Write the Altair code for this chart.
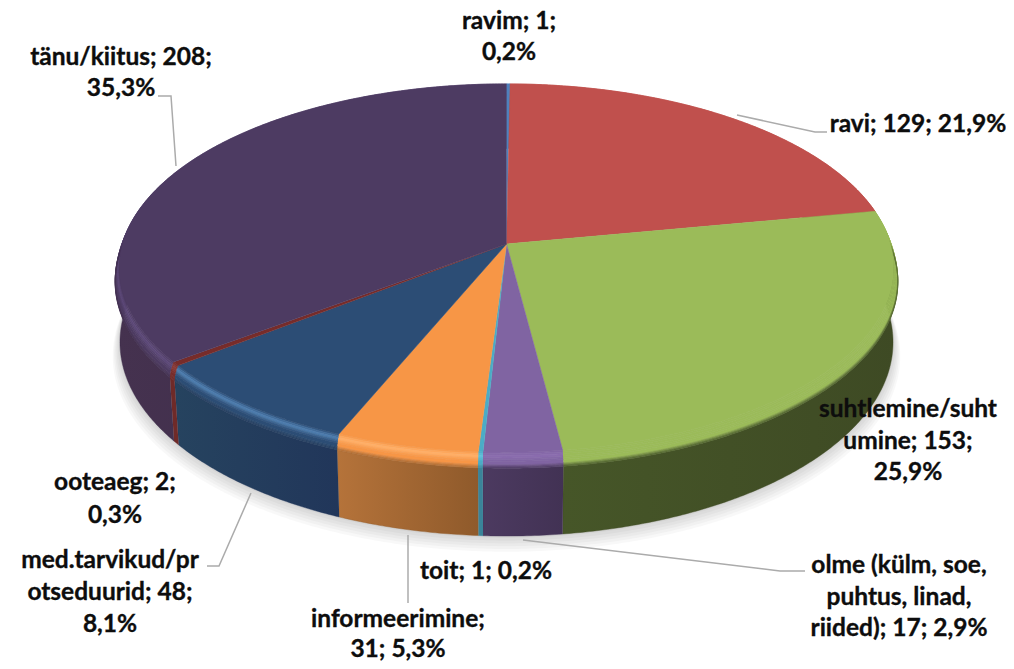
import math
import altair as alt
import pandas as pd

# ---- chart values ----
categories = ["ravim", "ravi", "suhtlemine/suhtumine", "olme", "toit",
              "informeerimine", "med.tarvikud/protseduurid", "ooteaeg", "tänu/kiitus"]
counts = [1, 129, 153, 17, 1, 31, 48, 2, 208]
top_colors = ["#4F81BD", "#C0504D", "#9BBB59", "#8064A2", "#4BACC6",
              "#F79646", "#2C4D75", "#772C2A", "#4D3B62"]
hi_colors = ["#6A9AD6", "#C0504D", "#9BBB59", "#8A6CAE", "#5FC0DA",
             "#FFAE66", "#4C7BAC", "#8A3A38", "#5C4878"]
side_left = ["#3B6694", "#8A3A38", "#465628", "#4C3A60", "#3A8499",
             "#B5733A", "#26435F", "#6F2A28", "#45324F"]
side_right = ["#3B6694", "#8A3A38", "#3E4A24", "#423254", "#3A8499",
              "#8F5A2B", "#21365A", "#6F2A28", "#3B2A49"]

label_lines = ["ravim; 1;", "0,2%", "ravi; 129; 21,9%", "suhtlemine/suht", "umine; 153;", "25,9%",
               "olme (külm, soe,", "puhtus, linad,", "riided); 17; 2,9%", "toit; 1; 0,2%",
               "informeerimine;", "31; 5,3%", "ooteaeg; 2;", "0,3%", "med.tarvikud/pr",
               "otseduurid; 48;", "8,1%", "tänu/kiitus; 208;", "35,3%"]
label_x = [509, 509, 918, 908, 908, 908, 899, 899, 899, 486, 398, 398, 115, 115, 110, 110, 110, 121, 121]
label_y = [22, 53, 125, 410, 442, 473, 566, 598, 629, 572, 620, 650, 483, 516, 561, 593, 625, 58, 89]

leaders = [
    [(737, 115), (815, 132), (827, 132)],
    [(158, 96), (171, 96), (176, 166)],
    [(207, 566), (219, 566), (251, 493)],
    [(408, 535), (408, 603)],
    [(523, 540), (780, 571), (805, 571)],
]

# ---- perspective of the pie plane ----
X0, Y0, A, B, K = 506.5, 244.0, 384.0, 181.0, 0.1304
DEPTH, BEVEL, SX_OUT, SX_BOTTOM = 73.0, 14.0, 1.0104, 0.998


def rim(theta, down=0.0, sx=1.0):
    s, c = math.sin(theta), math.cos(theta)
    p = 1 / (1 + K * c)
    return X0 + A * s * p * sx, Y0 - B * c * p + down * p


def bevel_sx(o):
    return 1 + (SX_OUT - 1) * math.sin(min(1.0, o / BEVEL) * math.pi / 2)


def arc_angles(a, b):
    n = max(2, int((b - a) / math.radians(0.5)))
    return [a + (b - a) * i / n for i in range(n + 1)]


def mix(c1, c2, t):
    v1 = [int(c1[i:i + 2], 16) for i in (1, 3, 5)]
    v2 = [int(c2[i:i + 2], 16) for i in (1, 3, 5)]
    return "#" + "".join(f"{round(a + (b - a) * t):02X}" for a, b in zip(v1, v2))


total = sum(counts)
edges = [0.0]
for v in counts:
    edges.append(edges[-1] + v / total * 2 * math.pi)

top_rows, bevel_rows, shadow_rows = [], [], []
side_tables = []
profile = [(0, 1.5, 0.3, 0), (1.5, 3, 0.7, 0), (3, 5, 1.0, 0), (5, 6.5, 0.6, 0), (6.5, 8, 0.25, 0),
           (8, 11, 0, 0), (11, 12, 0, 0.25), (12, 13, 0, 0.5), (13, 14, 0, 0.75)]

for idx, name in enumerate(categories):
    a, b = edges[idx], edges[idx + 1]
    ang = arc_angles(a, b)
    pts = [(X0, Y0)] + [rim(t) for t in ang]
    for i, (x, y) in enumerate(pts):
        top_rows.append(dict(g=name, i=i, x=x, y=y, c=top_colors[idx]))

    side_mid = mix(side_left[idx], side_right[idx], 0.5)
    for k, (o1, o2, hi, dark) in enumerate(profile):
        col = mix(mix(top_colors[idx], hi_colors[idx], hi), side_mid, dark)
        poly = [rim(t, o1, bevel_sx(o1)) for t in ang] + [rim(t, o2, bevel_sx(o2)) for t in reversed(ang)]
        for i, (x, y) in enumerate(poly):
            bevel_rows.append(dict(g=f"{name}-{k}", i=i, x=x, y=y, c=col))

    poly = [rim(t, BEVEL, SX_OUT) for t in ang] + [rim(t, DEPTH, SX_BOTTOM) for t in reversed(ang)]
    side_tables.append((pd.DataFrame([dict(i=i, x=x, y=y) for i, (x, y) in enumerate(poly)]),
                        side_left[idx], side_right[idx]))

full = arc_angles(0, 2 * math.pi)
for stage, off in enumerate([2, 5, 8, 11, 14, 17]):
    for i, t in enumerate(full):
        x, y = rim(t, DEPTH + off * 0.8, SX_BOTTOM + off * 0.0011)
        shadow_rows.append(dict(g=stage, i=i, x=x, y=y))

xs = alt.X("x:Q", scale=alt.Scale(domain=[8, 1006], nice=False, zero=False), axis=None)
ys = alt.Y("y:Q", scale=alt.Scale(domain=[661, 8], nice=False, zero=False), axis=None)
order = alt.Order("i:Q")

layers = []
layers.append(
    alt.Chart(pd.DataFrame(shadow_rows)).mark_line(fill="#000000", fillOpacity=0.028, strokeOpacity=0)
    .encode(x=xs, y=ys, order=order, detail="g:N")
)
for df, c1, c2 in side_tables:
    grad = alt.LinearGradient(gradient="linear",
                              stops=[alt.GradientStop(color=c1, offset=0),
                                     alt.GradientStop(color=c2, offset=1)],
                              x1=0, x2=1, y1=0, y2=0)
    layers.append(alt.Chart(df).mark_line(fill=grad, stroke=c2, strokeWidth=0.4)
                  .encode(x=xs, y=ys, order=order))


def polys(rows, sw):
    return alt.Chart(pd.DataFrame(rows)).mark_line(strokeWidth=sw).encode(
        x=xs, y=ys, order=order, detail="g:N",
        fill=alt.Fill("c:N", scale=None, legend=None),
        stroke=alt.Stroke("c:N", scale=None, legend=None))


layers.append(polys(bevel_rows, 0.6))
layers.append(polys(top_rows, 0.5))

leader_rows = []
for n, seg in enumerate(leaders):
    for i, (x, y) in enumerate(seg):
        leader_rows.append(dict(g=n, i=i, x=x, y=y))
layers.append(alt.Chart(pd.DataFrame(leader_rows)).mark_line(color="#ABABAB", strokeWidth=1.5)
              .encode(x=xs, y=ys, order=order, detail="g:N"))

labels = pd.DataFrame(dict(t=label_lines, x=label_x, y=label_y))
layers.append(alt.Chart(labels).mark_text(font="Lato", fontWeight="bold", fontSize=24.5,
                                          color="#0D0D0D", stroke="#0D0D0D", strokeWidth=0.35,
                                          align="center", baseline="middle")
              .encode(x=xs, y=ys, text="t:N"))

chart = alt.layer(*layers).properties(
    width=998, height=653, padding=0, background="white",
    autosize=alt.AutoSizeParams(type="none"),
).configure_view(stroke=None)

chart.save("out.html", embed_options={"renderer": "svg", "actions": False})
